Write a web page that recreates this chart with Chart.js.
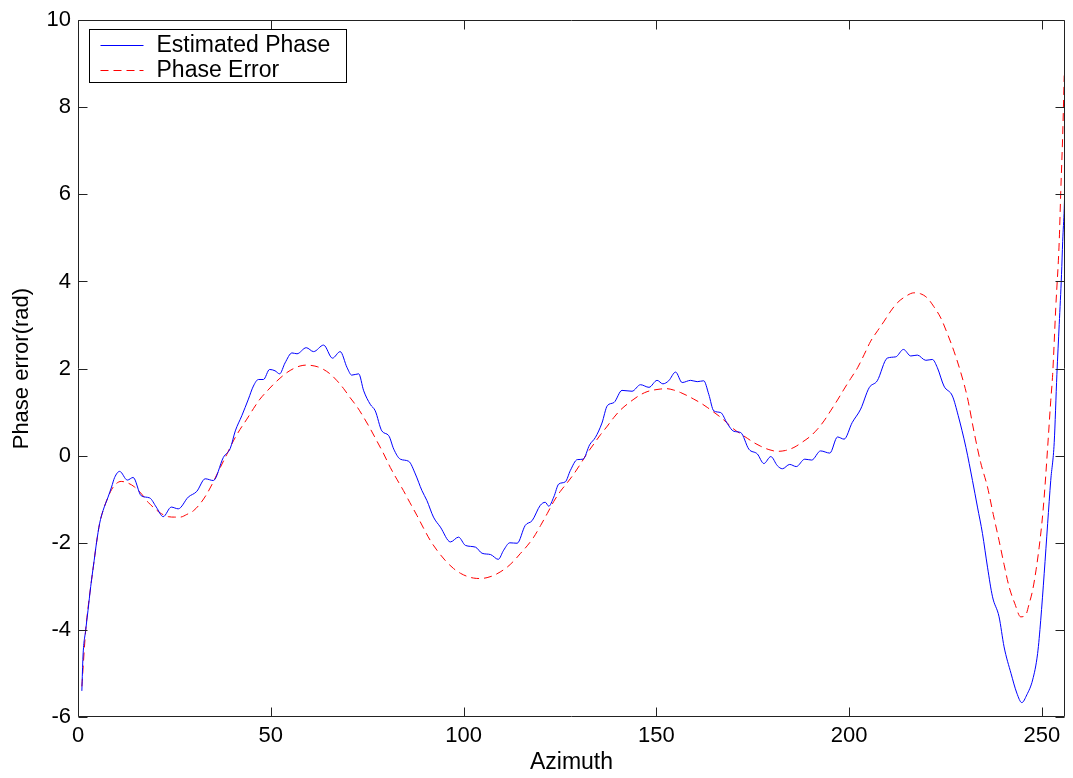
<!DOCTYPE html>
<html>
<head>
<meta charset="utf-8">
<script src="https://cdn.jsdelivr.net/npm/chart.js@4/dist/chart.umd.min.js"></script>
<style>
  html, body { margin: 0; padding: 0; background: #fff; }
</style>
</head>
<body>
<canvas id="chart" width="1073" height="778"></canvas>
<script>
// values
const estX = [1, 1.3, 2, 2.6, 3.3, 4.2, 4.8, 5.6, 6.5, 7.8, 8.7, 9.5, 10.8, 12.8, 14.3, 16.4, 18.6, 20.3, 22.1, 24.2,
  26, 28.6, 30.8, 33, 35.1, 37.7, 39.5, 40.8, 42.5, 44.2, 45.5, 46.8, 48.1, 49.7, 51.1, 52.3, 53.7, 55.5, 56.8, 59.2,
  61.1, 63.7, 66, 68, 69.8, 71, 72.8, 74.1, 75.8, 77.1, 78.8, 80.6, 81.9, 83.6, 85.8, 87.5, 89.2, 90.5, 92.2, 94,
  96.6, 98.7, 100.5, 103.1, 104.8, 107, 109, 110.4, 112, 113.9, 116, 117.8, 119.9, 121.2, 122.1, 123.4, 124.7, 126.4, 127.7, 129.5,
  131, 132.7, 134.2, 135.9, 137.3, 139, 141.1, 143.7, 145.9, 148.1, 150.2, 151.7, 153.2, 155, 156.7, 158.9, 160.6, 162.3, 163.6, 164.9,
  166.7, 168.4, 170.1, 171.9, 174, 176.2, 177.9, 179.7, 181.4, 182.7, 184.6, 186.3, 188.5, 190.3, 192.6, 195, 197, 198.7, 200.8, 203,
  205.2, 207.3, 209.9, 212.1, 214.1, 216, 217.7, 219.9, 221.6, 222.9, 224.6, 226.8, 228.3, 230.3, 232, 233.3, 234.6, 235.9, 237.2, 238.9,
  240.2, 242, 243.5, 244.8, 246.1, 247.6, 248.9, 249.7, 250.6, 251.5, 252.3, 253.2, 253.9, 254.5, 255.1, 255.4, 255.8, 256];
const estY = [-5.4, -4.6, -4.0, -3.55, -3.0, -2.4, -2.0, -1.56, -1.26, -0.95, -0.72, -0.5, -0.36, -0.56, -0.5, -0.92, -0.97, -1.18, -1.4, -1.18,
  -1.22, -0.95, -0.82, -0.53, -0.57, -0.04, 0.17, 0.57, 0.92, 1.3, 1.6, 1.75, 1.75, 1.98, 1.95, 1.88, 2.13, 2.36, 2.34, 2.48,
  2.39, 2.54, 2.24, 2.39, 2.02, 1.85, 1.88, 1.49, 1.18, 1.03, 0.57, 0.46, 0.15, -0.08, -0.13, -0.42, -0.8, -1.03, -1.41, -1.64,
  -1.98, -1.87, -2.06, -2.1, -2.24, -2.27, -2.38, -2.17, -2.0, -2.01, -1.6, -1.49, -1.14, -1.07, -1.16, -0.95, -0.65, -0.6, -0.34, -0.09,
  -0.08, 0.25, 0.42, 0.75, 1.15, 1.22, 1.5, 1.48, 1.63, 1.57, 1.73, 1.65, 1.72, 1.92, 1.68, 1.73, 1.7, 1.72, 1.41, 1.03,
  0.99, 0.74, 0.56, 0.53, 0.15, 0.04, -0.18, -0.02, -0.23, -0.3, -0.2, -0.25, -0.08, -0.1, 0.11, 0.06, 0.43, 0.38, 0.76, 1.07,
  1.56, 1.72, 2.24, 2.27, 2.44, 2.29, 2.31, 2.19, 2.21, 2.02, 1.6, 1.37, 0.92, 0.19, -0.57, -1.18, -1.79, -2.56, -3.24, -3.7,
  -4.39, -5.0, -5.45, -5.67, -5.49, -5.15, -4.54, -3.78, -2.71, -1.56, -0.57, 0.3, 1.87, 3.01, 4.16, 4.92, 5.68, 6.29];

const errX = [1, 2, 2.6, 3.3, 4.2, 4.8, 5.6, 6.5, 7.8, 8.7, 9.8, 11.2, 13, 14.7, 16.5, 18.2, 20, 21.6, 23.4, 25.1,
  26.5, 28.2, 30, 31.7, 33.4, 35.1, 36.9, 38.6, 40.3, 42, 43.8, 45.5, 47.2, 49, 50.7, 52.4, 54.2, 55.9, 57.6, 59.2,
  60.7, 62.2, 63.7, 65.5, 67.2, 68.9, 70.6, 72.4, 74.1, 75.8, 77.5, 79.3, 81, 82.7, 84.4, 86.1, 87.9, 89.6, 91.4, 93.1,
  95.2, 97.4, 99.2, 100.9, 102.6, 104.4, 106.1, 107.8, 109.5, 111.3, 113, 114.7, 116.5, 118.2, 120, 121.7, 123.4, 125.1, 126.9, 128.6,
  130.4, 132.1, 133.8, 135.5, 137.3, 139, 140.7, 142.4, 144.2, 145.9, 147.6, 149.4, 151, 152.6, 154.4, 156.3, 158, 159.7, 161.5, 163.2,
  164.9, 166.7, 168.4, 170.1, 171.9, 173.6, 175.3, 177, 179.2, 181.4, 183.5, 185.7, 188, 190, 191.8, 193.5, 195.2, 197, 198.7, 200.4,
  202.2, 203.9, 205.6, 207.4, 209.1, 210.8, 212.5, 214.7, 216.8, 218.5, 220.3, 222, 223.8, 225.5, 227.2, 229, 230.7, 232.4, 234.1, 235.9,
  237.4, 238.9, 240.2, 241.5, 243, 244.5, 245.8, 246.7, 247.6, 248.5, 249.3, 250, 250.6, 251.5, 252.3, 252.8, 253.6, 254.5, 254.9, 255.4, 255.8];
const errY = [-5.3, -4.0, -3.5, -3.0, -2.4, -2.0, -1.56, -1.26, -0.95, -0.78, -0.65, -0.59, -0.63, -0.72, -0.88, -1.07, -1.22, -1.33, -1.4, -1.41,
  -1.41, -1.35, -1.26, -1.1, -0.88, -0.6, -0.27, 0.03, 0.34, 0.6, 0.84, 1.08, 1.3, 1.48, 1.64, 1.78, 1.91, 2.0, 2.06, 2.08,
  2.07, 2.04, 1.98, 1.87, 1.72, 1.54, 1.33, 1.12, 0.88, 0.62, 0.34, 0.04, -0.27, -0.54, -0.8, -1.08, -1.37, -1.66, -1.95, -2.17,
  -2.4, -2.59, -2.7, -2.77, -2.81, -2.82, -2.8, -2.75, -2.67, -2.56, -2.42, -2.25, -2.07, -1.87, -1.6, -1.33, -1.05, -0.82, -0.62, -0.42,
  -0.18, 0.06, 0.27, 0.48, 0.68, 0.88, 1.05, 1.18, 1.3, 1.4, 1.47, 1.51, 1.53, 1.54, 1.51, 1.45, 1.38, 1.3, 1.21, 1.11,
  1.0, 0.88, 0.75, 0.61, 0.5, 0.4, 0.3, 0.22, 0.14, 0.1, 0.12, 0.19, 0.32, 0.45, 0.61, 0.8, 1.03, 1.28, 1.53, 1.77,
  2.02, 2.32, 2.63, 2.87, 3.09, 3.32, 3.51, 3.66, 3.74, 3.72, 3.62, 3.42, 3.16, 2.8, 2.4, 1.9, 1.33, 0.55, -0.15, -0.72,
  -1.35, -1.95, -2.5, -3.01, -3.4, -3.7, -3.66, -3.4, -3.09, -2.62, -2.1, -1.55, -0.95, 0.19, 1.26, 1.87, 3.39, 4.92, 6.06, 7.36, 8.73];

const xTicks = [0, 50, 100, 150, 200, 250];
const yTicks = [-6, -4, -2, 0, 2, 4, 6, 8, 10];
const seriesLabels = ['Estimated Phase', 'Phase Error'];
const xTitle = 'Azimuth';
const yTitle = 'Phase error(rad)';

const FONT = '"Liberation Sans", Arial, sans-serif';
const pts = (xs, ys) => xs.map((x, i) => ({ x, y: ys[i] }));

// MATLAB-ish box with inward ticks, plus the boxed legend in the top-left corner
const matlabAxes = {
  id: 'matlabAxes',
  afterDatasetsDraw(chart) {
    const { ctx, chartArea: a, scales: { x, y } } = chart;
    const L = Math.round(a.left) + 0.5, R = Math.round(a.right) - 0.5;
    const T = Math.round(a.top) + 0.5, B = Math.round(a.bottom) - 0.5;
    ctx.save();
    ctx.strokeStyle = '#222';
    ctx.lineWidth = 1;
    ctx.beginPath();
    ctx.rect(L, T, R - L, B - T);
    for (const v of xTicks) {
      const px = Math.round(x.getPixelForValue(v)) + 0.5;
      ctx.moveTo(px, B); ctx.lineTo(px, B - 9);
      ctx.moveTo(px, T); ctx.lineTo(px, T + 9);
    }
    for (const v of yTicks) {
      const py = Math.round(y.getPixelForValue(v)) + 0.5;
      ctx.moveTo(L, py); ctx.lineTo(L + 9, py);
      ctx.moveTo(R, py); ctx.lineTo(R - 9, py);
    }
    ctx.stroke();

    // legend
    const bx = L + 11, by = T + 9, bw = 257, bh = 53;
    ctx.fillStyle = '#fff';
    ctx.fillRect(bx, by, bw, bh);
    ctx.strokeStyle = '#000';
    ctx.strokeRect(bx, by, bw, bh);
    chart.data.datasets.forEach((ds, i) => {
      const ry = Math.round(by + 15 + i * 25) + 0.5;
      ctx.strokeStyle = ds.borderColor;
      ctx.setLineDash(ds.borderDash || []);
      ctx.beginPath();
      ctx.moveTo(bx + 11, ry); ctx.lineTo(bx + 54, ry);
      ctx.stroke();
      ctx.setLineDash([]);
      ctx.fillStyle = '#000';
      ctx.font = '23px ' + FONT;
      ctx.textBaseline = 'middle';
      ctx.fillText(ds.label, bx + 67, ry);
    });
    ctx.restore();
  }
};

new Chart(document.getElementById('chart'), {
  type: 'line',
  data: {
    datasets: [
      {
        label: seriesLabels[0],
        data: pts(estX, estY),
        borderColor: '#0000ff',
        borderWidth: 1,
        pointRadius: 0,
        cubicInterpolationMode: 'monotone',
      },
      {
        label: seriesLabels[1],
        data: pts(errX, errY),
        borderColor: '#ff0000',
        borderWidth: 1,
        borderDash: [8, 5],
        pointRadius: 0,
        cubicInterpolationMode: 'monotone',
      },
    ],
  },
  options: {
    responsive: false,
    animation: false,
    devicePixelRatio: 1,
    layout: { padding: { top: 18, right: 8, left: 0, bottom: 0 } },
    plugins: { legend: { display: false }, tooltip: { enabled: false } },
    scales: {
      x: {
        type: 'linear',
        min: 0,
        max: 256,
        afterBuildTicks: s => (s.ticks = xTicks.map(value => ({ value }))),
        afterFit: s => (s.height = 61),
        grid: { display: false, drawTicks: false },
        border: { display: false },
        ticks: { color: '#000', font: { family: FONT, size: 22 }, padding: 6, maxRotation: 0 },
        title: { display: true, text: xTitle, color: '#000', font: { family: FONT, size: 23 }, padding: { top: 0, bottom: 2 } },
      },
      y: {
        min: -6,
        max: 10,
        afterBuildTicks: s => (s.ticks = yTicks.map(value => ({ value }))),
        afterFit: s => (s.width = 78),
        grid: { display: false, drawTicks: false },
        border: { display: false },
        ticks: { color: '#000', font: { family: FONT, size: 22 }, padding: 7 },
        title: { display: true, text: yTitle, color: '#000', font: { family: FONT, size: 22 }, padding: { top: 9, bottom: 0 } },
      },
    },
  },
  plugins: [matlabAxes],
});
</script>
</body>
</html>
